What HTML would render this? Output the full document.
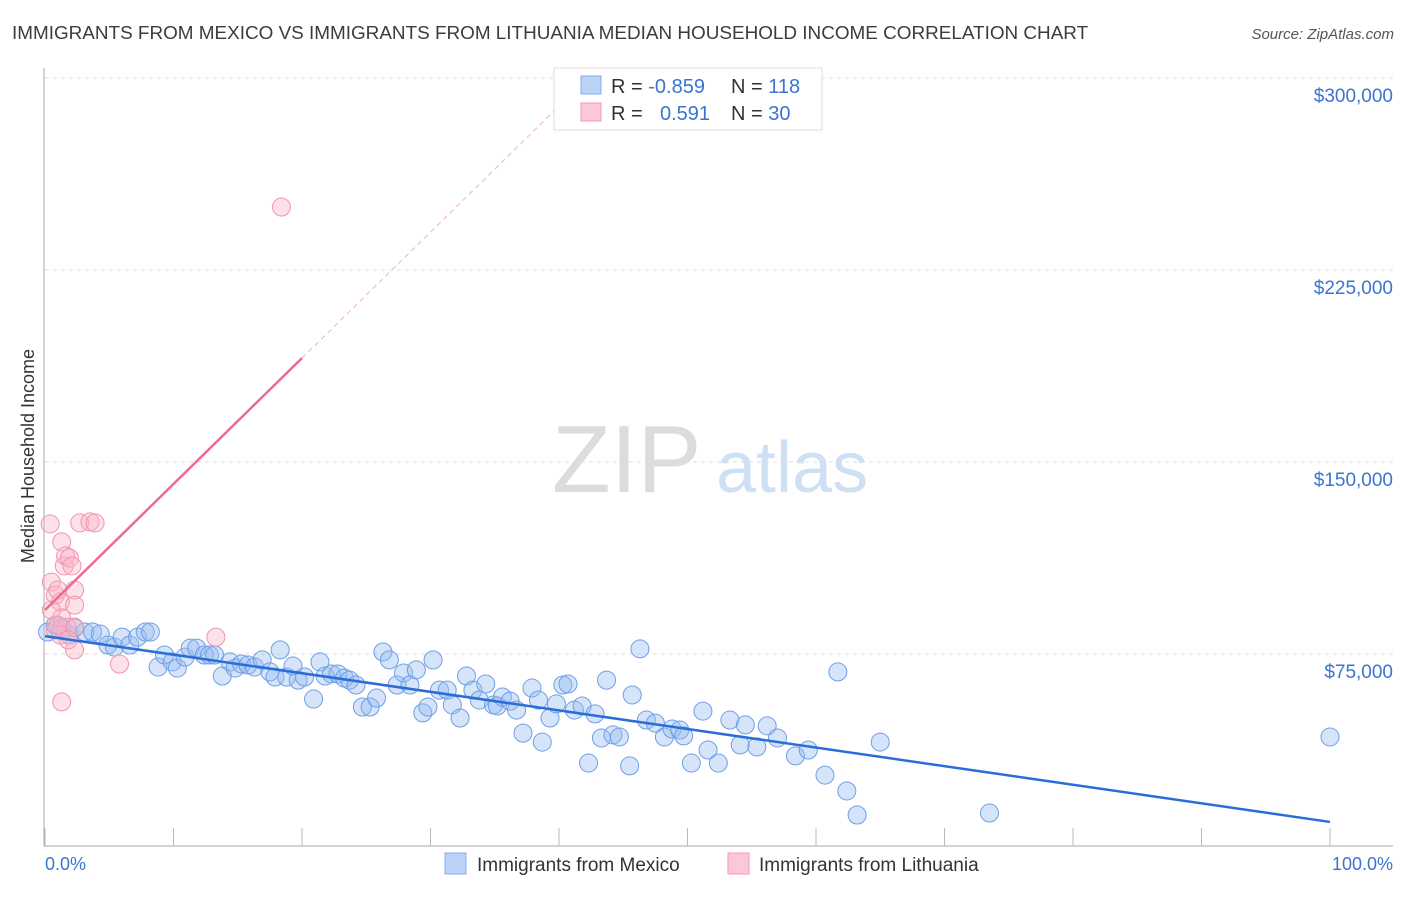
<!DOCTYPE html>
<html><head><meta charset="utf-8"><style>
body{margin:0;background:#fff;font-family:"Liberation Sans",sans-serif}
svg text{font-family:"Liberation Sans",sans-serif}
</style></head><body>
<svg id="chart" width="1406" height="892" xmlns="http://www.w3.org/2000/svg">
<text x="12" y="39" font-size="18.9" fill="#3c3c3c">IMMIGRANTS FROM MEXICO VS IMMIGRANTS FROM LITHUANIA MEDIAN HOUSEHOLD INCOME CORRELATION CHART</text>
<text x="1394" y="39" font-size="15" fill="#555" text-anchor="end" font-style="italic">Source: ZipAtlas.com</text>
<g>
<text x="552" y="492" font-size="96" fill="#dcdcdc" font-family="Liberation Serif,serif">ZIP</text>
<text x="716" y="492" font-size="72" fill="#cfe0f5">atlas</text>
</g>
<g id="grid"></g>
<g id="axes"></g>
<g id="pts"></g>
<g id="lines"></g>
<text transform="translate(34,456) rotate(-90)" font-size="18" fill="#333" text-anchor="middle">Median Household Income</text>
<text x="45" y="870" font-size="18" fill="#3b74d0">0.0%</text>
<text x="1393" y="870" font-size="18" fill="#3b74d0" text-anchor="end">100.0%</text>
<g>
<rect x="554" y="68" width="268" height="62" fill="#fff" stroke="#ddd"/>
<rect x="581" y="76" width="20" height="18" fill="#b9d2f5" stroke="#86acea"/>
<rect x="581" y="103" width="20" height="18" fill="#fcc8d7" stroke="#f09ab2"/>
<text x="611" y="93" font-size="20" fill="#333">R = <tspan fill="#3b74d0">-0.859</tspan></text>
<text x="731" y="93" font-size="20" fill="#333">N = <tspan fill="#3b74d0">118</tspan></text>
<text x="611" y="120" font-size="20" fill="#333">R = <tspan fill="#3b74d0" x="660">0.591</tspan></text>
<text x="731" y="120" font-size="20" fill="#333">N = <tspan fill="#3b74d0">30</tspan></text>
</g>
<g>
<rect x="445" y="853" width="21" height="21" fill="#b9d2f5" stroke="#86acea"/>
<text x="477" y="871" font-size="19" fill="#333">Immigrants from Mexico</text>
</g>
<g>
<rect x="728" y="853" width="21" height="21" fill="#fcc8d7" stroke="#f09ab2"/>
<text x="759" y="871" font-size="19" fill="#333">Immigrants from Lithuania</text>
</g>
</svg>
<script>
const yTicks=[75000,150000,225000,300000];
const yTickLabels=["$75,000","$150,000","$225,000","$300,000"];
const mexX=[0.2,0.8,1.3,1.9,2.3,3.1,3.7,4.3,4.9,5.4,6.0,6.6,7.2,7.8,8.2,8.8,9.3,9.9,10.3,10.9,11.3,11.8,12.4,12.8,13.2,13.8,14.4,14.8,15.3,15.8,16.3,16.9,17.5,17.9,18.3,18.8,19.3,19.7,20.2,20.9,21.4,21.8,22.3,22.8,23.3,23.7,24.2,24.7,25.3,25.8,26.3,26.8,27.4,27.9,28.4,28.9,29.4,29.8,30.2,30.7,31.3,31.7,32.3,32.8,33.3,33.8,34.3,34.9,35.2,35.6,36.2,36.7,37.2,37.9,38.4,38.7,39.3,39.8,40.3,40.7,41.2,41.8,42.3,42.8,43.3,43.7,44.2,44.7,45.5,45.7,46.3,46.8,47.5,48.2,48.8,49.4,49.7,50.3,51.2,51.6,52.4,53.3,54.1,54.5,55.4,56.2,57.0,58.4,59.4,60.7,61.7,62.4,63.2,65.0,73.5,100];
const mexY=[83.6,86.3,85.2,82.4,85.2,83.6,83.6,82.8,78.5,77.7,81.6,78.5,81.6,83.6,83.6,69.9,74.6,71.9,69.5,73.8,77.3,77.3,74.6,74.6,74.6,66.4,71.9,69.5,71.1,70.7,69.9,72.7,68.0,66.0,76.6,66.0,70.3,64.8,66.0,57.4,71.9,66.4,67.2,67.2,65.6,64.8,62.9,54.3,54.3,57.8,75.8,72.7,62.9,67.6,62.9,68.8,52.0,54.3,72.7,60.9,60.9,55.1,50.0,66.4,60.9,57.0,63.3,55.1,54.7,58.2,56.6,53.1,44.1,61.7,57.0,40.6,50.0,55.5,62.9,63.3,53.1,54.7,32.4,51.6,42.2,64.8,43.4,42.6,31.3,59.0,77.0,49.2,48.0,42.6,45.7,45.3,43.0,32.4,52.7,37.5,32.4,49.2,39.5,47.3,38.7,46.9,42.2,35.2,37.5,27.7,68.0,21.5,12.1,40.6,12.9,42.6];
const litX=[0.4,0.5,0.8,1.0,1.2,1.3,1.5,1.3,1.6,1.7,1.9,2.1,2.3,2.3,2.3,1.3,2.7,3.5,3.9,2.3,5.8,13.3,18.4,0.8,1.2,1.8,1.0,0.5];
const litY=[125.8,103.1,98.0,100.0,95.3,89.1,109.4,118.8,113.3,85.5,112.5,109.4,100.0,85.5,76.6,56.3,126.2,126.6,126.2,94.1,71.1,81.6,249.6,84.4,82.4,80.5,86.3,92.2];
const mexTrend=[82.0,9.4];
const litTrend=[92.2,4.92];
const NS="http://www.w3.org/2000/svg";
const X0=45,X1=1330,YB=846,PX_PER_K=192/75;
const sx=v=>X0+(X1-X0)*v/100;
const sy=k=>YB-k*PX_PER_K;
function mk(tag,attrs,parent){const e=document.createElementNS(NS,tag);for(const k in attrs)e.setAttribute(k,attrs[k]);document.getElementById(parent).appendChild(e);return e;}
yTicks.forEach((t,i)=>{
 const y=sy(t/1000);
 const g=mk('line',{x1:45,x2:1393,y1:y,y2:y,stroke:'#ddd','stroke-dasharray':'4,4'},'grid');
 
 
 const l=mk('text',{x:1393,y:y+24,'font-size':19,fill:'#3b74d0','text-anchor':'end'},'grid');
 l.textContent=yTickLabels[i];
 
 
});
const ax=mk('line',{x1:44,x2:44,y1:68,y2:846,stroke:'#aaa'},'axes');


const bx=mk('line',{x1:44,x2:1393,y1:846,y2:846,stroke:'#aaa'},'axes');


for(let i=0;i<=10;i++){
 const x=sx(i*10);
 const t=mk('line',{x1:x,x2:x,y1:828,y2:846,stroke:'#bbb'},'axes');
 
 
}
mexX.forEach((v,i)=>{
 const c=mk('circle',{cx:sx(v),cy:sy(mexY[i]),r:9,fill:'rgba(150,188,240,0.4)',stroke:'#6f9fe6','stroke-width':1},'pts');
 
 
});
litX.forEach((v,i)=>{
 const c=mk('circle',{cx:sx(v),cy:sy(litY[i]),r:9,fill:'rgba(250,180,200,0.4)',stroke:'#f095b0','stroke-width':1},'pts');
 
 
});
const bl=mk('line',{x1:sx(0),y1:sy(mexTrend[0]),x2:sx(100),y2:sy(mexTrend[1]),stroke:'#2a6dd8','stroke-width':2.5},'lines');


const lit=x=>litTrend[0]+litTrend[1]*x;
const pl=mk('line',{x1:sx(0),y1:sy(lit(0)),x2:sx(20),y2:sy(lit(20)),stroke:'#ec6a94','stroke-width':2.5},'lines');


const xe=(300-litTrend[0])/litTrend[1];
const pd=mk('line',{x1:sx(20),y1:sy(lit(20)),x2:sx(xe),y2:sy(300),stroke:'#f0b0c4','stroke-width':1,'stroke-dasharray':'5,4'},'lines');


</script>
</body></html>
